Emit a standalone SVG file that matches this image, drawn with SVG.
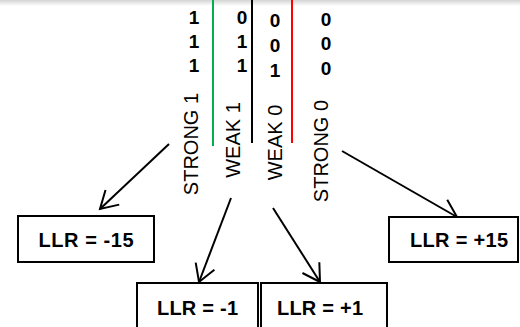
<svg xmlns="http://www.w3.org/2000/svg" width="520" height="327" viewBox="0 0 520 327">
<style>
.num{font-family:"Liberation Sans",Arial,sans-serif;font-weight:bold;font-size:19px;fill:#000;text-anchor:middle}
.lab{font-family:"Liberation Sans",Arial,sans-serif;font-size:20px;fill:#000;text-anchor:middle}
.llr{font-family:"Liberation Sans",Arial,sans-serif;font-weight:bold;font-size:20px;fill:#000;text-anchor:middle}
.box{fill:#fff;stroke:#000;stroke-width:2}
.conn{stroke:#000;stroke-width:2;fill:none;marker-end:url(#arr)}
</style>
<defs>
<marker id="arr" markerUnits="userSpaceOnUse" markerWidth="24" markerHeight="24" viewBox="-20 -12 24 24" refX="0" refY="0" orient="auto">
<path d="M-17,-10 L0,0 L-17,10" fill="none" stroke="#000" stroke-width="2"/>
</marker>
<linearGradient id="shade" x1="0" y1="0" x2="0" y2="1">
<stop offset="0" stop-color="#d4d4d4"/>
<stop offset="1" stop-color="#fff"/>
</linearGradient>
</defs>
<rect x="0" y="0" width="520" height="327" fill="#fff"/>
<rect x="0" y="0" width="520" height="6" fill="url(#shade)"/>
<g id="separators">
<line x1="213" y1="0" x2="213" y2="146" stroke="#00b050" stroke-width="2"/>
<line x1="252" y1="0" x2="252" y2="143" stroke="#000" stroke-width="2"/>
<line x1="292" y1="0" x2="292" y2="143" stroke="#ff0000" stroke-width="2"/>
</g>
<g id="bits">
<text class="num" x="194" y="23.5">1</text>
<text class="num" x="194" y="48">1</text>
<text class="num" x="194" y="72">1</text>
<text class="num" x="242" y="24">0</text>
<text class="num" x="242" y="48">1</text>
<text class="num" x="242" y="72">1</text>
<text class="num" x="275" y="27">0</text>
<text class="num" x="275" y="52">0</text>
<text class="num" x="275" y="77">1</text>
<text class="num" x="326" y="26">0</text>
<text class="num" x="326" y="50">0</text>
<text class="num" x="326" y="75">0</text>
</g>
<g id="strong1"><text class="lab" transform="translate(198,144) rotate(-90)">STRONG 1</text></g>
<g id="weak1"><text class="lab" transform="translate(240,140) rotate(-90)">WEAK 1</text></g>
<g id="weak0"><text class="lab" transform="translate(282,142.5) rotate(-90)">WEAK 0</text></g>
<g id="strong0"><text class="lab" transform="translate(328,151) rotate(-90)">STRONG 0</text></g>
<g id="connectors">
<line class="conn" x1="169" y1="144" x2="100" y2="209"/>
<line class="conn" x1="231" y1="198" x2="199" y2="282"/>
<line class="conn" x1="273" y1="208" x2="320" y2="282"/>
<line class="conn" x1="342" y1="151" x2="457" y2="217"/>
</g>
<g id="llr-m15">
<rect class="box" x="18" y="216" width="136" height="46"/>
<text class="llr" x="86" y="247" textLength="95" lengthAdjust="spacing">LLR = -15</text>
</g>
<g id="llr-p15">
<rect class="box" x="389" y="217" width="129" height="45"/>
<text class="llr" x="459" y="247" textLength="98" lengthAdjust="spacing">LLR = +15</text>
</g>
<g id="llr-m1">
<rect class="box" x="137" y="283" width="121" height="60"/>
<text class="llr" x="197.5" y="315" textLength="81" lengthAdjust="spacing">LLR = -1</text>
</g>
<g id="llr-p1">
<rect class="box" x="261" y="283" width="126" height="60" stroke-width="1.5"/>
<text class="llr" x="320" y="315" textLength="86" lengthAdjust="spacing">LLR = +1</text>
</g>
</svg>
